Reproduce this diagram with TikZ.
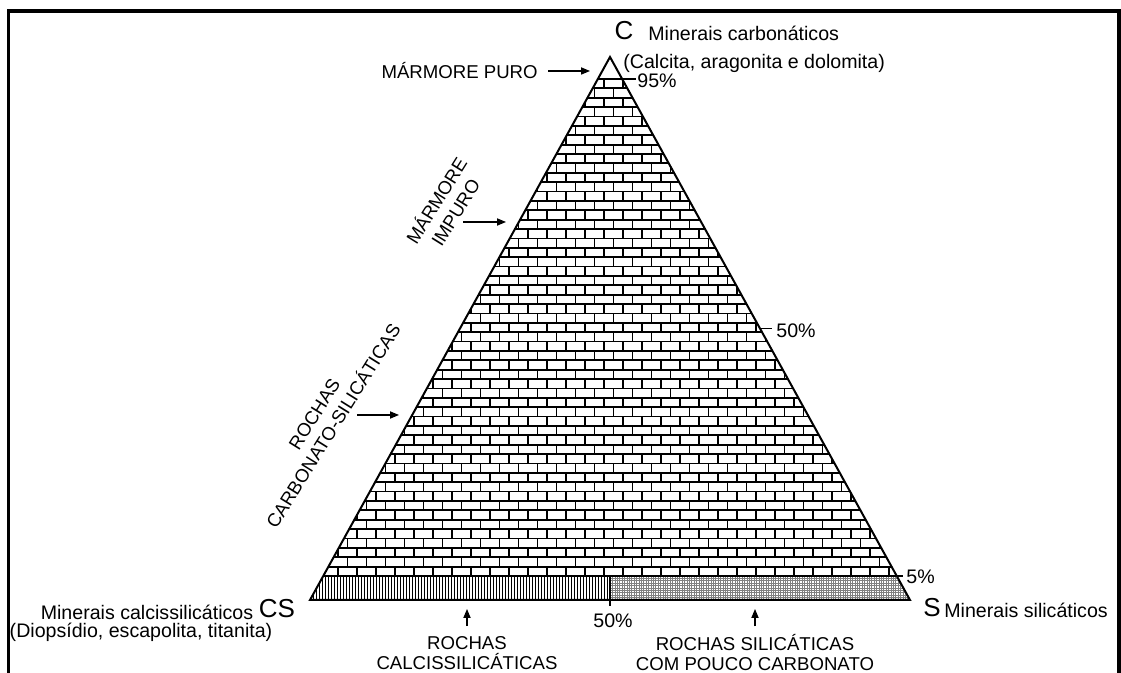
\documentclass[tikz,border=0pt]{standalone}
\usepackage{fontspec}
\setmainfont{Liberation Sans}
\usetikzlibrary{arrows.meta}
\tikzset{
  txt/.style={inner sep=0pt, font=\fontsize{9.8}{11.5}\selectfont},
  caps/.style={inner sep=0pt, align=center, font=\fontsize{9.3}{11.2}\selectfont},
  capsb/.style={inner sep=0pt, align=center, font=\fontsize{9.3}{10}\selectfont},
  vtx/.style={inner sep=0pt, font=\fontsize{13}{15}\selectfont},
  brick/.style={line width=0.9pt},
  tick/.style={line width=0.6pt},
  arr/.style={line width=0.55pt, -{Triangle[length=4.5pt,width=3.6pt]}},
}
\begin{document}
\begin{tikzpicture}[x=0.5pt, y=-0.5pt]
\useasboundingbox (0,0) rectangle (1121,673);
% frame
\draw[line width=1.6pt] (8.5,673) -- (8.5,11) -- (1119,11) -- (1119,673);

\coordinate (A) at (610,57);
\coordinate (L) at (310,600);
\coordinate (R) at (910,600);

% bricks between 95% and 5%
\begin{scope}
  \clip (A) -- (L) -- (R) -- cycle;
  \foreach \k in {0,...,52} {
    \pgfmathsetmacro\ya{79+\k*9.377}
    \pgfmathsetmacro\off{mod(\k,2)*9.5}
    \draw[brick] (300,\ya) -- (920,\ya);
    \foreach \j in {0,...,32}
      \draw[brick] (300+\off+\j*19,\ya) -- ++(0,9.377);
  }
\end{scope}

% calcissilicatic band
\begin{scope}
  \clip (L) -- (323.3,576) -- (610,576) -- (610,600) -- cycle;
  \foreach \x in {310,313,...,610}
    \draw[line width=0.4pt] (\x,570) -- (\x,605);
\end{scope}

% silicatic band
\begin{scope}
  \clip (610,576) -- (896.7,576) -- (R) -- (610,600) -- cycle;
  \foreach \x in {610,612.4,...,912}
    \draw[line width=0.3pt, black!50] (\x,570) -- (\x,605);
  \foreach \y in {576,578.4,...,602}
    \draw[line width=0.3pt, black!50] (600,\y) -- (915,\y);
\end{scope}
\draw[brick] (323.3,576) -- (896.7,576);
\draw[line width=0.7pt] (610,576) -- (610,600);

% outline
\draw[line width=1pt] (A) -- (L) -- (R) -- cycle;

% vertices
\node[vtx] (C) at (624,31) {C};
\node[txt, anchor=west] (Cmin) at (648,33) {Minerais carbonáticos};
\node[txt, anchor=west] (Cex) at (623,63) {(Calcita, aragonita e dolomita)};
\node[vtx] (CS) at (277,609) {CS};
\node[txt] (CSmin) at (147,612) {Minerais calcissilicáticos};
\node[txt] (CSex) at (141,632) {(Diopsídio, escapolita, titanita)};
\node[vtx] (S) at (932,608) {S};
\node[txt, anchor=west] (Smin) at (944,610) {Minerais silicáticos};

% percentages
\node[txt, anchor=west] (p95) at (637,81) {95\%};
\node[txt, anchor=west] (p50) at (776,331) {50\%};
\node[txt, anchor=west] (p5) at (906,577) {5\%};
\node[txt] (p50b) at (613,621) {50\%};
\coordinate (t95) at (622.2,79);
\coordinate (t50) at (760,328.5);
\coordinate (t5) at (896.7,576);
\coordinate (t50b) at (610,600);
\draw[tick] (t95) -- ([xshift=-0.5pt]t95 -| p95.west);
\draw[tick] (t50) -- ([xshift=-2pt]t50 -| p50.west);
\draw[tick] (t5) -- ([xshift=-1.5pt]t5 -| p5.west);
\draw[tick] (t50b) -- ++(0,6);

% rock names
\node[caps, anchor=east] (puro) at (538,71) {MÁRMORE PURO};
\coordinate (puroTip) at (590,71);
\draw[arr] ([xshift=5pt]puro.east) -- (puroTip);

\node[caps, rotate=58] (impuro) at (445,206) {MÁRMORE\\IMPURO};
\coordinate (impuroTail) at (463,222);
\coordinate (impuroTip) at (506,222);
\draw[arr] (impuroTail) -- (impuroTip);

\node[caps, rotate=58] (carbsil) at (324,420) {ROCHAS\\CARBONATO-SILICÁTICAS};
\coordinate (carbsilTail) at (357,415);
\coordinate (carbsilTip) at (399,415);
\draw[arr] (carbsilTail) -- (carbsilTip);

\node[capsb] (calcsil) at (467,653) {ROCHAS\\CALCISSILICÁTICAS};
\coordinate (calcsilTip) at (467,609);
\draw[arr] ([yshift=5pt]calcsil.north) -- (calcsilTip);

\node[capsb] (silic) at (755,653) {ROCHAS SILICÁTICAS\\COM POUCO CARBONATO};
\coordinate (silicTip) at (755,609);
\draw[arr] ([yshift=4pt]silic.north) -- (silicTip);
\end{tikzpicture}
\end{document}
